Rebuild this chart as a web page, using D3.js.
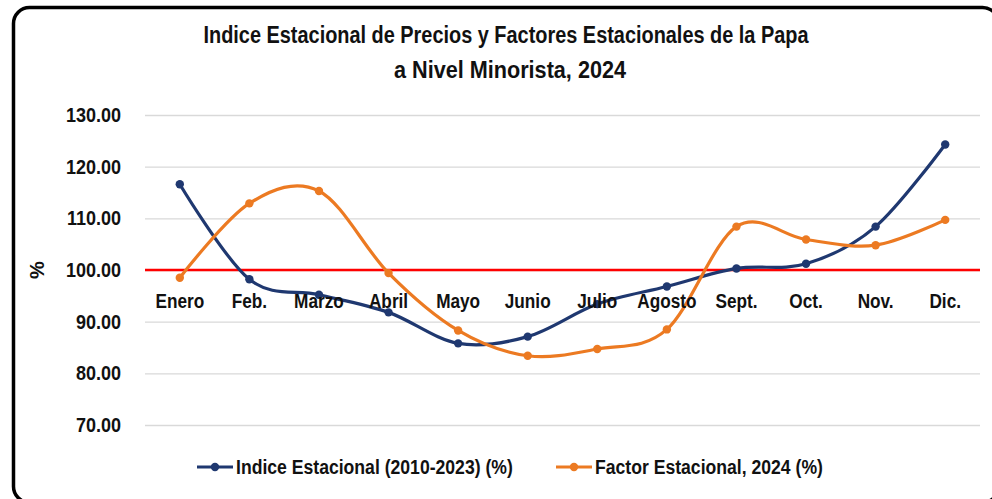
<!DOCTYPE html>
<html><head><meta charset="utf-8">
<script src="https://cdn.jsdelivr.net/npm/d3@7"></script>
<style>body{margin:0;background:#fff}svg{display:block}</style>
</head><body><svg id="c" width="992" height="499"></svg>
<script>
const months = ["Enero","Feb.","Marzo","Abril","Mayo","Junio","Julio","Agosto","Sept.","Oct.","Nov.","Dic."];
const indiceEstacional = [116.6,98.2,95.2,91.8,85.8,87.1,93.4,96.8,100.3,101.2,108.4,124.3];
const factorEstacional = [98.5,112.9,115.3,99.4,88.3,83.4,84.7,88.5,108.4,105.9,104.8,109.7];
const yTicks = [70,80,90,100,110,120,130];
const titleLines = ["Indice Estacional de Precios y Factores Estacionales de la Papa","a Nivel Minorista, 2024"];
const seriesNames = ["Indice Estacional (2010-2023) (%)","Factor Estacional, 2024 (%)"];
const baseline = 100;

const FONT = "'Liberation Sans','Arial',sans-serif";
const colors = ["#1f3870","#ec7a22"];
const svg = d3.select("#c");

function condense(sel, k){
  sel.each(function(){
    const L = this.getComputedTextLength();
    this.setAttribute("textLength", (L*k).toFixed(1));
    this.setAttribute("lengthAdjust","spacingAndGlyphs");
  });
}

svg.append("rect").attr("x",13.5).attr("y",7.5).attr("width",985).attr("height",495)
  .attr("rx",16).attr("fill","#fff").attr("stroke","#000").attr("stroke-width",3.5);

const x = d3.scaleBand().domain(months).range([145,980]);
const y = d3.scaleLinear().domain([70,130]).range([425,115]);

// title
const titleWidths = [605, 232];
const tt = svg.append("g").selectAll("text").data(titleLines).join("text")
  .attr("x",(d,i)=>i?510:506).attr("y",(d,i)=>43+i*35).attr("text-anchor","middle")
  .attr("font-family",FONT).attr("font-weight","bold").attr("font-size",23).attr("fill","#111")
  .attr("textLength",(d,i)=>titleWidths[i]).attr("lengthAdjust","spacingAndGlyphs")
  .text(d=>d);

// grid + y labels
const yAxis = d3.axisLeft(y).tickValues(yTicks).tickFormat(d3.format(".2f")).tickSize(-(980-145)).tickPadding(24);
const ga = svg.append("g").attr("transform","translate(145,0)").call(yAxis);
ga.select(".domain").remove();
ga.selectAll(".tick line").attr("stroke","#d9d9d9").attr("stroke-width",1.3);
ga.selectAll(".tick text").attr("font-family",FONT).attr("font-weight","bold").attr("font-size",20).attr("fill","#111");
condense(ga.selectAll(".tick text"), 0.9);

svg.append("text").attr("transform","translate(44,"+y(baseline)+") rotate(-90)")
  .attr("text-anchor","middle").attr("font-family",FONT).attr("font-weight","bold").attr("font-size",20).attr("fill","#111").text("%");

// baseline
svg.append("line").attr("x1",145).attr("x2",980).attr("y1",y(baseline)).attr("y2",y(baseline))
  .attr("stroke","#ff0000").attr("stroke-width",2.5);

const line = d3.line().x((d,i)=>x(months[i])+x.bandwidth()/2).y(d=>y(d)).curve(d3.curveCardinal.tension(0));
[indiceEstacional,factorEstacional].forEach((s,k)=>{
  const g = svg.append("g");
  g.append("path").attr("d",line(s)).attr("fill","none").attr("stroke",colors[k]).attr("stroke-width",3.2);
  g.selectAll("circle").data(s).join("circle")
    .attr("cx",(d,i)=>x(months[i])+x.bandwidth()/2).attr("cy",d=>y(d)).attr("r",4.2).attr("fill",colors[k]);
});

// x labels (category axis crossing at 100)
const xAxis = d3.axisBottom(x).tickSize(0).tickPadding(0);
const gx = svg.append("g").attr("transform","translate(0,"+y(baseline)+")").call(xAxis);
gx.select(".domain").remove();
gx.selectAll(".tick text").attr("dy",null).attr("y",38).attr("font-family",FONT).attr("font-weight","bold").attr("font-size",20).attr("fill","#111");
condense(gx.selectAll(".tick text"), 0.86);

// legend
const legX = [197,556];
seriesNames.forEach((n,k)=>{
  const g = svg.append("g").attr("transform","translate("+legX[k]+",467)");
  g.append("line").attr("x1",0).attr("x2",36).attr("stroke",colors[k]).attr("stroke-width",3.2);
  g.append("circle").attr("cx",18).attr("r",4.2).attr("fill",colors[k]);
  const t = g.append("text").attr("x",39).attr("y",7).attr("font-family",FONT).attr("font-weight","bold").attr("font-size",20).attr("fill","#111").text(n);
  condense(t, 0.88);
});
</script></body></html>
